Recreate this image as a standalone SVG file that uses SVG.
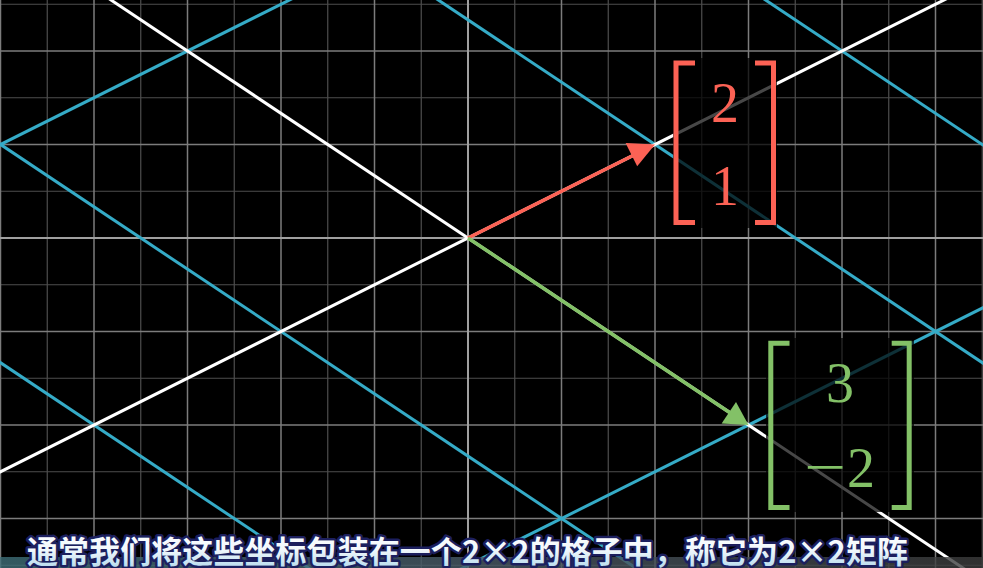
<svg xmlns="http://www.w3.org/2000/svg" width="983" height="568" viewBox="0 0 983 568">
<defs>
<style>
.u{stroke:#7c7c7c;stroke-width:1.5}
.h{stroke:#4e4e4e;stroke-width:1.2}
.ax{stroke:#a0a0a0;stroke-width:2}
.bl{stroke:#35abc7;stroke-width:3;fill:none}
.wh{stroke:#ffffff;stroke-width:3;fill:none}
.dim{fill:#000;opacity:0.72}
.num{font-family:"Liberation Serif","DejaVu Serif",serif;font-size:56px;text-anchor:middle}
.brk{fill:none;stroke-width:5;stroke-linejoin:miter}
</style>
<linearGradient id="tg" x1="0" y1="0" x2="0" y2="1">
<stop offset="0" stop-color="#ffffff"/>
<stop offset="0.5" stop-color="#f2f8fc"/>
<stop offset="1" stop-color="#a9d4ea"/>
</linearGradient>
<linearGradient id="band" x1="0" y1="0" x2="1" y2="0">
<stop offset="0" stop-color="#3e6f78"/>
<stop offset="0.5" stop-color="#4a5a66"/>
<stop offset="1" stop-color="#3c3c3c"/>
</linearGradient>
</defs>
<rect width="983" height="568" fill="#000"/>
<g id="background-grid">
<g class="h">
<line x1="47.25" y1="0" x2="47.25" y2="568"/><line x1="140.75" y1="0" x2="140.75" y2="568"/><line x1="234.25" y1="0" x2="234.25" y2="568"/><line x1="327.75" y1="0" x2="327.75" y2="568"/><line x1="421.25" y1="0" x2="421.25" y2="568"/><line x1="514.75" y1="0" x2="514.75" y2="568"/><line x1="608.25" y1="0" x2="608.25" y2="568"/><line x1="701.75" y1="0" x2="701.75" y2="568"/><line x1="795.25" y1="0" x2="795.25" y2="568"/><line x1="888.75" y1="0" x2="888.75" y2="568"/><line x1="982.25" y1="0" x2="982.25" y2="568"/>
<line x1="0" y1="4.25" x2="983" y2="4.25"/><line x1="0" y1="97.75" x2="983" y2="97.75"/><line x1="0" y1="191.25" x2="983" y2="191.25"/><line x1="0" y1="284.75" x2="983" y2="284.75"/><line x1="0" y1="378.25" x2="983" y2="378.25"/><line x1="0" y1="471.75" x2="983" y2="471.75"/><line x1="0" y1="565.25" x2="983" y2="565.25"/>
</g>
<g class="u">
<line x1="0.5" y1="0" x2="0.5" y2="568"/><line x1="94" y1="0" x2="94" y2="568"/><line x1="187.5" y1="0" x2="187.5" y2="568"/><line x1="281" y1="0" x2="281" y2="568"/><line x1="374.5" y1="0" x2="374.5" y2="568"/><line x1="561.5" y1="0" x2="561.5" y2="568"/><line x1="655" y1="0" x2="655" y2="568"/><line x1="748.5" y1="0" x2="748.5" y2="568"/><line x1="842" y1="0" x2="842" y2="568"/><line x1="935.5" y1="0" x2="935.5" y2="568"/>
<line x1="0" y1="51" x2="983" y2="51"/><line x1="0" y1="144.5" x2="983" y2="144.5"/><line x1="0" y1="331.5" x2="983" y2="331.5"/><line x1="0" y1="425" x2="983" y2="425"/><line x1="0" y1="518.5" x2="983" y2="518.5"/>
</g>
<g class="ax">
<line x1="468" y1="0" x2="468" y2="568"/>
<line x1="0" y1="238" x2="983" y2="238"/>
</g>
</g>
<g id="transformed-grid">
<line class="bl" x1="-10" y1="149.75" x2="299.5" y2="-5"/>
<line class="bl" x1="440" y1="579.25" x2="990" y2="304.25"/>
<line class="bl" x1="-10" y1="137.5" x2="640" y2="570.8"/>
<line class="bl" x1="-10" y1="355.7" x2="320" y2="575.7"/>
<line class="bl" x1="430.75" y1="-5" x2="990" y2="367.8"/>
<line class="bl" x1="758" y1="-5" x2="990" y2="149.67"/>
<line class="wh" x1="-10" y1="477" x2="954" y2="-5"/>
<line class="wh" x1="103.5" y1="-5" x2="990" y2="586"/>
</g>
<g id="connectors">
<g id="vector-i">
<line x1="468" y1="238" x2="636" y2="154" stroke="#FC6255" stroke-width="3.5"/>
<polygon points="655,144.5 637.2,166.2 625.6,143.0" fill="#FC6255"/>
</g>
<g id="vector-j">
<line x1="468" y1="238" x2="730" y2="412.7" stroke="#83C167" stroke-width="3.5"/>
<polygon points="748.5,425 721.6,423.6 736.0,402.0" fill="#83C167"/>
</g>
</g>
<g id="matrix-i">
<rect class="dim" x="673" y="58" width="104" height="170"/>
<path class="brk" stroke="#FC6255" d="M695 63 H676 V222.5 H695"/>
<path class="brk" stroke="#FC6255" d="M755 63 H773.5 V222.5 H755"/>
<text class="num" fill="#FC6255" x="725" y="122">2</text>
<text class="num" fill="#FC6255" x="725" y="205">1</text>
</g>
<g id="matrix-j">
<rect class="dim" x="766" y="338" width="148" height="174"/>
<path class="brk" stroke="#83C167" d="M789.5 343.3 H770.8 V507.5 H789.5"/>
<path class="brk" stroke="#83C167" d="M891.7 343.3 H909.2 V507.5 H891.7"/>
<text class="num" fill="#83C167" x="840" y="402">3</text>
<text class="num" fill="#83C167" x="804" y="486" text-anchor="start" textLength="42" lengthAdjust="spacingAndGlyphs" style="text-anchor:start">−</text>
<text class="num" fill="#83C167" x="861" y="487">2</text>
</g>
<g id="subtitle">
<rect x="0" y="557" width="983" height="11" fill="url(#band)" opacity="0.8"/>
<text x="27" y="563" textLength="881" font-family="'Noto Sans CJK SC','Noto Sans',sans-serif" font-weight="bold" font-size="31" fill="url(#tg)" stroke="#1c1f5e" stroke-width="5" stroke-linejoin="round" paint-order="stroke">通常我们将这些坐标包装在一个2×2的格子中，称它为2×2矩阵</text>
</g>
</svg>
